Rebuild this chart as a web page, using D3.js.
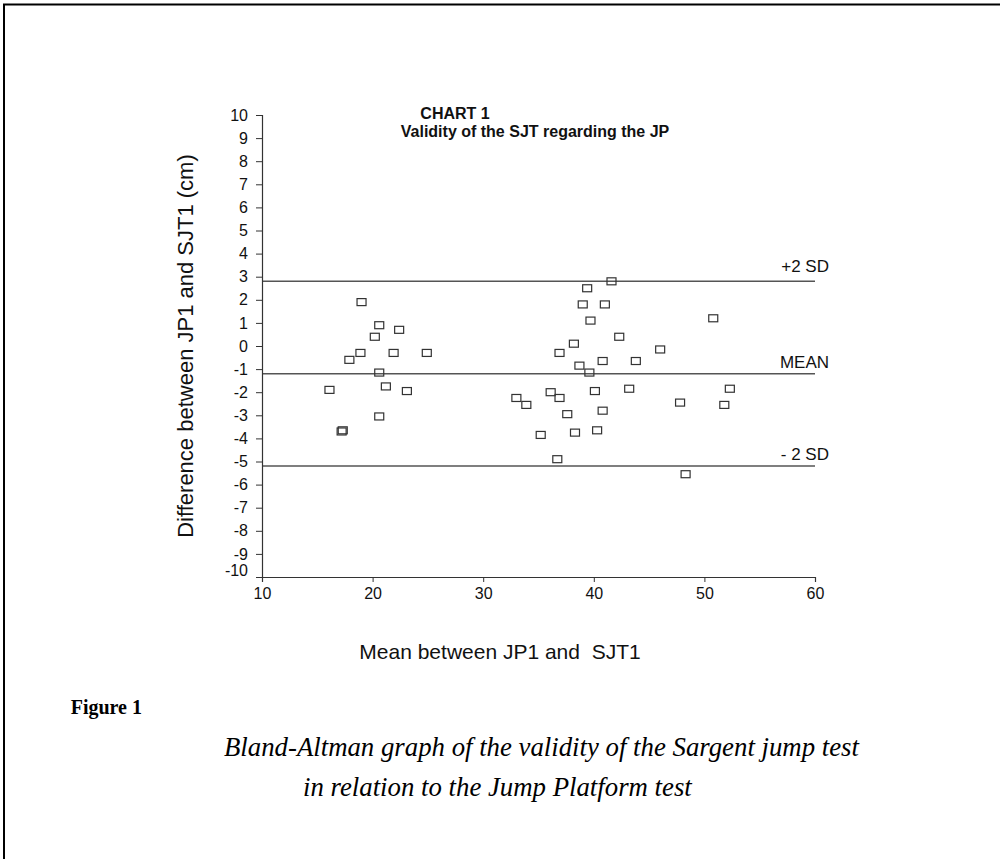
<!DOCTYPE html>
<html>
<head>
<meta charset="utf-8">
<script src="https://cdn.jsdelivr.net/npm/d3@7"></script>
<style>
  html, body { margin: 0; padding: 0; background: #fff; overflow: hidden; }
  svg { display: block; }
</style>
</head>
<body>
<svg id="chart" width="1000" height="859"></svg>
<script>
// ---- data ----
const meanVals = [16.1, 17.2, 17.3, 17.9, 18.9, 19.0, 20.2, 20.6, 20.6, 20.6, 21.2, 21.9, 22.4, 23.1, 24.9,
                  33.0, 33.9, 35.2, 36.1, 36.7, 36.9, 36.9, 37.6, 38.2, 38.3, 38.7, 39.0, 39.4, 39.6, 39.7,
                  40.1, 40.3, 40.8, 40.8, 41.0, 41.6, 42.3, 43.2, 43.8, 46.0, 47.8, 48.3, 50.8, 51.8, 52.3];
const diffVals = [-1.9, -3.7, -3.65, -0.6, -0.3, 1.9, 0.4, 0.9, -1.15, -3.05, -1.75, -0.3, 0.7, -1.95, -0.3,
                  -2.25, -2.55, -3.85, -2.0, -4.9, -0.3, -2.25, -2.95, 0.1, -3.75, -0.85, 1.8, 2.5, -1.15, 1.1,
                  -1.95, -3.65, -0.65, -2.8, 1.8, 2.8, 0.4, -1.85, -0.65, -0.15, -2.45, -5.55, 1.2, -2.55, -1.85];
const refValues = [2.8, -1.2, -5.2];
const refLabels = ["+2 SD", "MEAN", "- 2 SD"];
const xTicks = [10, 20, 30, 40, 50, 60];
const yTicks = [-10, -9, -8, -7, -6, -5, -4, -3, -2, -1, 0, 1, 2, 3, 4, 5, 6, 7, 8, 9, 10];

const svg = d3.select("#chart");
const sans = "'Liberation Sans', Arial, sans-serif";
const serif = "'Liberation Serif', 'DejaVu Serif', serif";

// page frame (top and left edges)
svg.append("line").attr("x1", 3).attr("y1", 4.5).attr("x2", 1000).attr("y2", 4.5)
  .attr("stroke", "#000").attr("stroke-width", 2);
svg.append("line").attr("x1", 4).attr("y1", 4).attr("x2", 4).attr("y2", 859)
  .attr("stroke", "#000").attr("stroke-width", 2);

const x = d3.scaleLinear().domain([10, 60]).range([262, 815]);
const y = d3.scaleLinear().domain([-10, 10]).range([577, 115]);

// reference lines (+2 SD, mean, -2 SD)
const refLabelOffset = [-9, -6, -6];
refValues.forEach((v, i) => {
  svg.append("line")
    .attr("x1", x(10)).attr("x2", x(60))
    .attr("y1", y(v)).attr("y2", y(v))
    .attr("stroke", "#555").attr("stroke-width", 1.5);
  svg.append("text")
    .attr("x", 829).attr("y", y(v) + refLabelOffset[i])
    .attr("text-anchor", "end")
    .attr("font-family", sans).attr("font-size", 17).attr("fill", "#111")
    .text(refLabels[i]);
});

// axes
const fmt = d => String(d);
const xAxis = svg.append("g").attr("transform", `translate(0,${y(-10)})`)
  .call(d3.axisBottom(x).tickValues(xTicks).tickSize(5).tickPadding(6).tickFormat(fmt));
const yAxis = svg.append("g").attr("transform", `translate(${x(10)},0)`)
  .call(d3.axisLeft(y).tickValues(yTicks).tickSize(6).tickPadding(8).tickFormat(fmt));
[xAxis, yAxis].forEach(g => {
  g.select(".domain").attr("stroke", "#333").attr("stroke-width", 1.2);
  g.selectAll(".tick line").attr("stroke", "#333");
  g.selectAll(".tick text").attr("font-family", sans).attr("font-size", 16).attr("fill", "#111");
});
// -10 label nudged up (as in the reference), its tick hidden by the corner
const t10 = yAxis.selectAll(".tick").filter(d => d === -10);
t10.select("text").attr("transform", "translate(0,-7)");
t10.select("line").remove();

// points
svg.append("g").selectAll("rect")
  .data(meanVals.map((m, i) => [m, diffVals[i]]))
  .join("rect")
  .attr("x", d => x(d[0]) - 4.5)
  .attr("y", d => y(d[1]) - 3.5)
  .attr("width", 9).attr("height", 7)
  .attr("fill", "none").attr("stroke", "#333").attr("stroke-width", 1.2);

// title
svg.append("text").attr("x", 455).attr("y", 119).attr("text-anchor", "middle")
  .attr("font-family", sans).attr("font-weight", "bold").attr("font-size", 16).attr("fill", "#111")
  .text("CHART 1");
svg.append("text").attr("x", 535).attr("y", 137).attr("text-anchor", "middle")
  .attr("font-family", sans).attr("font-weight", "bold").attr("font-size", 16).attr("fill", "#111")
  .text("Validity of the SJT regarding the JP");

// axis titles
svg.append("text")
  .attr("transform", `translate(193,${y(0)}) rotate(-90)`)
  .attr("text-anchor", "middle")
  .attr("font-family", sans).attr("font-size", 22).attr("fill", "#111")
  .text("Difference between JP1 and SJT1 (cm)");
svg.append("text").attr("x", 500).attr("y", 659).attr("text-anchor", "middle")
  .attr("font-family", sans).attr("font-size", 21).attr("fill", "#111")
  .style("white-space", "pre")
  .text("Mean between JP1 and  SJT1");

// figure caption
svg.append("text").attr("x", 142).attr("y", 714).attr("text-anchor", "end")
  .attr("font-family", serif).attr("font-weight", "bold").attr("font-size", 20).attr("fill", "#000")
  .text("Figure 1");
const cap2 = svg.append("text").attr("x", 303).attr("y", 796)
  .attr("font-family", serif).attr("font-style", "italic").attr("font-size", 20).attr("fill", "#000")
  .text("in relation to the Jump Platform test");
// size the caption so its second line spans the same width as in the reference
const capSize = 20 * 389 / cap2.node().getComputedTextLength();
cap2.attr("font-size", capSize);
svg.append("text").attr("x", 224).attr("y", 756)
  .attr("font-family", serif).attr("font-style", "italic").attr("font-size", capSize).attr("fill", "#000")
  .text("Bland-Altman graph of the validity of the Sargent jump test");
</script>
</body>
</html>
